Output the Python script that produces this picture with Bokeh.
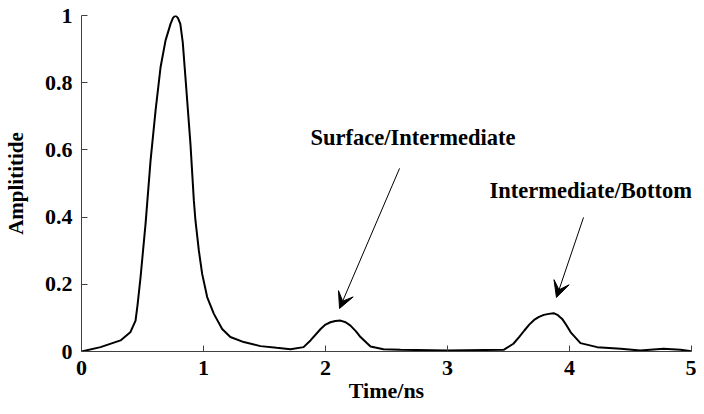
from bokeh.plotting import figure
from bokeh.models import Range1d, FixedTicker, Label, Arrow, VeeHead
from bokeh.embed import file_html
from bokeh.resources import INLINE

# Waveform (time in ns, normalized amplitude)
time_ns = [0, 0.156, 0.32, 0.40, 0.443, 0.46, 0.484, 0.525, 0.566, 0.607, 0.648,
           0.689, 0.73, 0.75, 0.77, 0.79, 0.81, 0.83, 0.852, 0.893, 0.921, 0.934, 0.962,
           0.989, 1.03, 1.085, 1.153, 1.22, 1.33, 1.467, 1.60, 1.713, 1.82, 1.877,
           1.96, 2.0, 2.04, 2.08, 2.123, 2.165, 2.205, 2.25, 2.287, 2.369, 2.475, 2.615,
           3.0, 3.46, 3.54, 3.585, 3.63, 3.67, 3.71, 3.75, 3.79, 3.83, 3.87, 3.905, 3.94,
           3.975, 4.01, 4.09, 4.227, 4.42, 4.58, 4.77, 4.91, 5.0]
amplitude = [0, 0.013, 0.033, 0.057, 0.092, 0.14, 0.221, 0.38, 0.568, 0.717, 0.846,
             0.926, 0.975, 0.993, 1.0, 0.993, 0.975, 0.92, 0.816, 0.618, 0.449, 0.39, 0.30,
             0.231, 0.162, 0.112, 0.067, 0.043, 0.028, 0.016, 0.011, 0.007, 0.013, 0.033,
             0.067, 0.080, 0.087, 0.091, 0.092, 0.087, 0.077, 0.060, 0.043, 0.015, 0.007, 0.005,
             0.003, 0.005, 0.023, 0.042, 0.0625, 0.080, 0.094, 0.103, 0.109, 0.112, 0.114, 0.108, 0.097,
             0.078, 0.057, 0.025, 0.013, 0.008, 0.003, 0.008, 0.005, 0.001]

x_ticks = [0, 1, 2, 3, 4, 5]
y_ticks = [0, 0.2, 0.4, 0.6, 0.8, 1.0]
y_tick_labels = ["0", "0.2", "0.4", "0.6", "0.8", "1"]

annot_texts = ["Surface/Intermediate", "Intermediate/Bottom"]

FONT = "Liberation Serif"
AXIS_COLOR = "#404040"

p = figure(width=696, height=406,
           min_border_left=81, min_border_right=5, min_border_top=15, min_border_bottom=55,
           x_range=Range1d(0, 5), y_range=Range1d(0, 1),
           output_backend="svg", toolbar_location=None,
           x_axis_label="Time/ns", y_axis_label="Amplititide")

p.outline_line_color = None
p.grid.visible = False
p.background_fill_color = "white"
p.border_fill_color = "white"

p.line(time_ns, amplitude, line_color="black", line_width=2)

for ax in (p.xaxis[0], p.yaxis[0]):
    ax.axis_line_color = AXIS_COLOR
    ax.major_tick_line_color = AXIS_COLOR
    ax.major_tick_in = 6
    ax.major_tick_out = 0
    ax.minor_tick_line_color = None
    ax.major_label_text_font = FONT
    ax.major_label_text_font_style = "bold"
    ax.major_label_text_font_size = "22px"
    ax.major_label_text_color = "black"
    ax.axis_label_text_font = FONT
    ax.axis_label_text_font_style = "bold"
    ax.axis_label_text_color = "black"

p.xaxis.axis_label_text_font_size = "22px"
p.yaxis.axis_label_text_font_size = "21px"
p.xaxis.ticker = FixedTicker(ticks=x_ticks)
p.yaxis.ticker = FixedTicker(ticks=y_ticks)
p.yaxis.major_label_overrides = {t: l for t, l in zip(y_ticks, y_tick_labels)}
p.xaxis.major_label_standoff = 9
p.yaxis.major_label_standoff = 9
p.xaxis.axis_label_standoff = 0
p.yaxis.axis_label_standoff = 14

# Annotations
p.add_layout(Label(x=1.877, y=0.637, text=annot_texts[0], text_font=FONT,
                   text_font_style="bold", text_font_size="22.5px", text_color="black",
                   text_baseline="alphabetic"))
p.add_layout(Label(x=3.344, y=0.479, text=annot_texts[1], text_font=FONT,
                   text_font_style="bold", text_font_size="22.5px", text_color="black",
                   text_baseline="alphabetic"))

p.add_layout(Arrow(end=VeeHead(size=16, fill_color="black", line_color="black"),
                   x_start=2.607, y_start=0.545, x_end=2.115, y_end=0.128,
                   line_color="black", line_width=1))
p.add_layout(Arrow(end=VeeHead(size=16, fill_color="black", line_color="black"),
                   x_start=4.115, y_start=0.399, x_end=3.893, y_end=0.161,
                   line_color="black", line_width=1))

open("out.html", "w").write(file_html(p, INLINE))
